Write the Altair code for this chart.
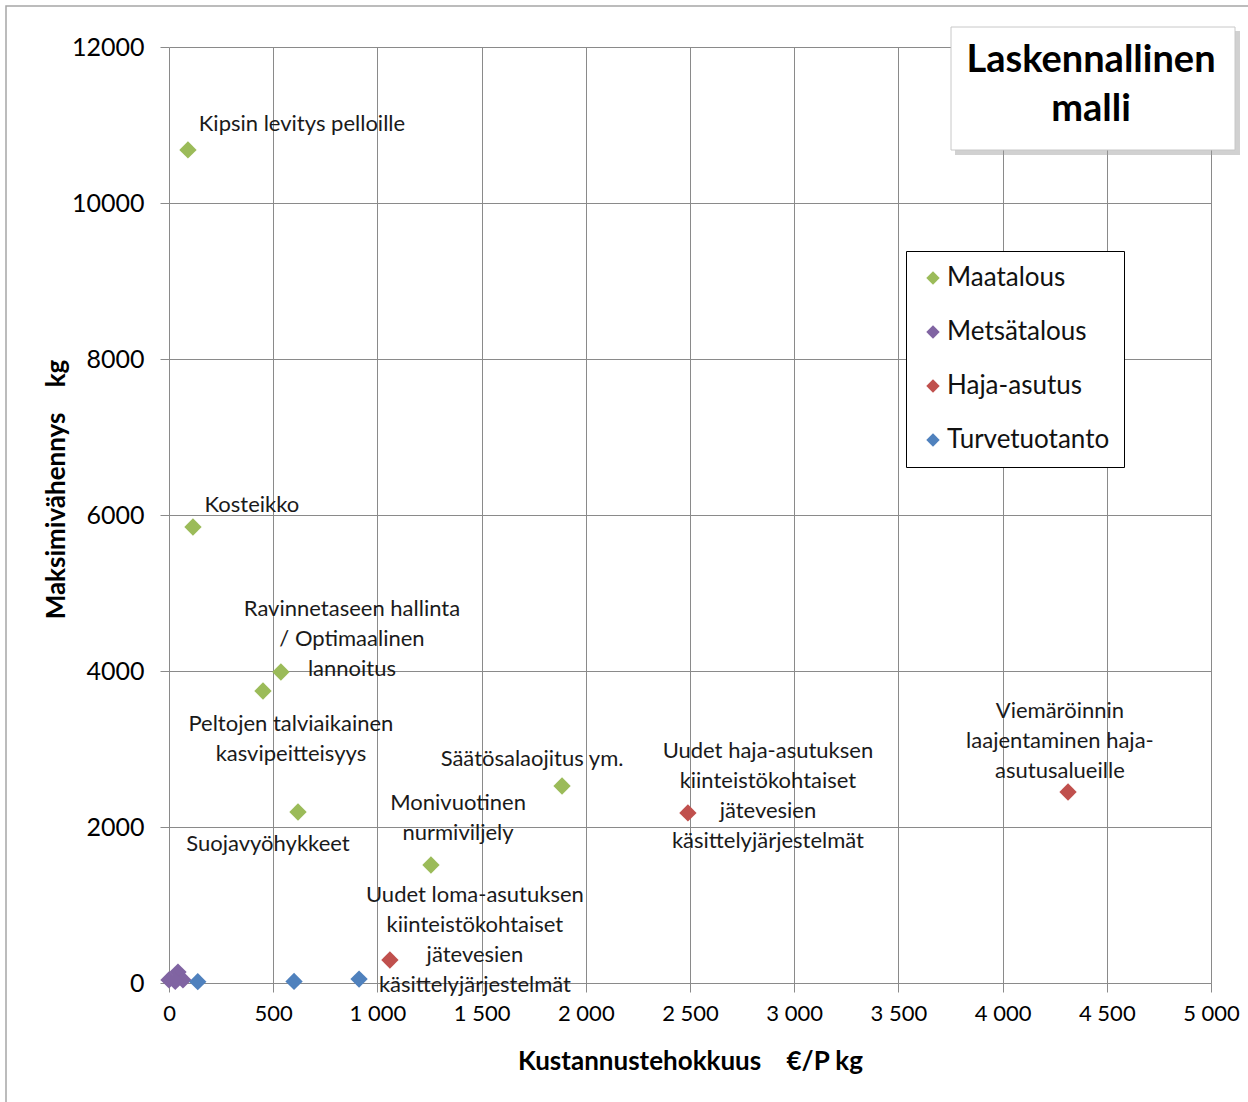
import altair as alt
import pandas as pd

FONT = "Lato"
NB = "\u00a0"

series_names = ["Maatalous", "Metsätalous", "Haja-asutus", "Turvetuotanto"]
series_colors = ["#9BBB59", "#8064A2", "#C0504D", "#4F81BD"]

maatalous_x = [91, 115, 537, 451, 619, 1257, 1886]
maatalous_y = [10680, 5846, 3987, 3744, 2192, 1513, 2526]

metsatalous_x = [0, 43, 67, 30]
metsatalous_y = [40, 140, 40, 20]

haja_x = [1060, 2490, 4314]
haja_y = [295, 2180, 2449]

turve_x = [138, 600, 912]
turve_y = [17, 20, 50]

label_texts = [
    "Kipsin levitys pelloille",
    "Kosteikko",
    "Ravinnetaseen hallinta\n/ Optimaalinen\nlannoitus",
    "Peltojen talviaikainen\nkasvipeitteisyys",
    "Suojavyöhykkeet",
    "Monivuotinen\nnurmiviljely",
    "Säätösalaojitus ym.",
    "Uudet loma-asutuksen\nkiinteistökohtaiset\njätevesien\nkäsittelyjärjestelmät",
    "Uudet haja-asutuksen\nkiinteistökohtaiset\njätevesien\nkäsittelyjärjestelmät",
    "Viemäröinnin\nlaajentaminen haja-\nasutusalueille",
]
# position of each label's first line (data units)
label_x = [638, 398, 878, 585, 475, 1387, 1742, 1468, 2874, 4275]
label_y = [11013, 6128, 4795, 3321, 1782, 2308, 2872, 1128, 2974, 3487]

x_ticks = list(range(0, 5001, 500))
y_ticks = list(range(0, 12001, 2000))

rows = []
for name, xs, ys in [
    ("Maatalous", maatalous_x, maatalous_y),
    ("Metsätalous", metsatalous_x, metsatalous_y),
    ("Haja-asutus", haja_x, haja_y),
    ("Turvetuotanto", turve_x, turve_y),
]:
    for xv, yv in zip(xs, ys):
        rows.append({"x": xv, "y": yv, "sarja": name})
points = pd.DataFrame(rows)

labels = pd.DataFrame({"x": label_x, "y": label_y, "teksti": label_texts})

x_scale = alt.Scale(domain=[0, 5000], nice=False, zero=False)
y_scale = alt.Scale(domain=[0, 12000], nice=False, zero=False)

x_label_expr = ("datum.value >= 1000 ? floor(datum.value/1000) + ' ' + "
                "(datum.value % 1000 == 0 ? '000' : '500') : '' + datum.value")

pts = alt.Chart(points).mark_point(
    shape="diamond", filled=True, size=300, opacity=1, strokeWidth=0
).encode(
    x=alt.X("x:Q", scale=x_scale, axis=alt.Axis(
        values=x_ticks, labelExpr=x_label_expr,
        title="Kustannustehokkuus" + NB * 4 + "€/P kg",
        labelFontSize=22, titleFontSize=26, titleFontWeight="bold",
        labelPadding=11, titlePadding=24, grid=True, tickSize=9, labelFlush=False,
    )),
    y=alt.Y("y:Q", scale=y_scale, axis=alt.Axis(
        values=y_ticks, format="d", title="Maksimivähennys" + NB * 4 + "kg",
        labelFontSize=25, titleFontSize=26, titleFontWeight="bold",
        labelPadding=16, grid=True, tickSize=9, domain=False, labelFlush=False,
        titleX=-100, titleY=442, titleAlign="center", titleAngle=270,
    )),
    color=alt.Color("sarja:N", scale=alt.Scale(domain=series_names, range=series_colors),
                    legend=alt.Legend(
                        orient="none", legendX=737, legendY=204, title=None,
                        symbolType="diamond", symbolSize=180, symbolStrokeWidth=0,
                        labelFontSize=26, labelFont=FONT, labelColor="#111",
                        labelLimit=400,
                        rowPadding=28, padding=14, labelOffset=1,
                        strokeColor="black", fillColor="white",
                    )),
)

txt = alt.Chart(labels).mark_text(
    fontSize=22, font=FONT, color="#1a1a1a", lineHeight=30, baseline="middle",
    align="center", lineBreak="\n"
).encode(
    x=alt.X("x:Q", scale=x_scale),
    y=alt.Y("y:Q", scale=y_scale),
    text="teksti:N",
)

one = alt.Data(values=[{}])

frame = alt.Chart(one).mark_rect(fill=None, stroke="#a6a6a6", strokeWidth=1.5).encode(
    x=alt.value(-163), x2=alt.value(1150), y=alt.value(-41), y2=alt.value(1150)
)
shadow = alt.Chart(one).mark_rect(fill="#9a9a9a", opacity=0.45).encode(
    x=alt.value(786), x2=alt.value(1071), y=alt.value(-16), y2=alt.value(108)
)
box = alt.Chart(one).mark_rect(fill="white", stroke="#c8c8c8", strokeWidth=1).encode(
    x=alt.value(782), x2=alt.value(1066), y=alt.value(-20), y2=alt.value(103)
)
title1 = alt.Chart(one).mark_text(
    font=FONT, fontSize=38, fontWeight="bold", color="black", align="center", baseline="middle"
).encode(x=alt.value(922), y=alt.value(14), text=alt.value("Laskennallinen"))
title2 = alt.Chart(one).mark_text(
    font=FONT, fontSize=38, fontWeight="bold", color="black", align="center", baseline="middle"
).encode(x=alt.value(922), y=alt.value(63), text=alt.value("malli"))

chart = alt.layer(frame, txt, pts, shadow, box, title1, title2).properties(
    width=1042, height=936,
    autosize=alt.AutoSizeParams(type="none"),
    padding={"left": 169, "top": 47, "right": 37, "bottom": 119},
    background="white",
).configure_axis(
    gridColor="#8a8a8a", domainColor="#8a8a8a", tickColor="#8a8a8a",
    labelColor="black", titleColor="black", labelFont=FONT, titleFont=FONT,
    gridWidth=1,
).configure_view(stroke=None)

chart.save("out.html", embed_options={"renderer": "svg", "actions": False})
